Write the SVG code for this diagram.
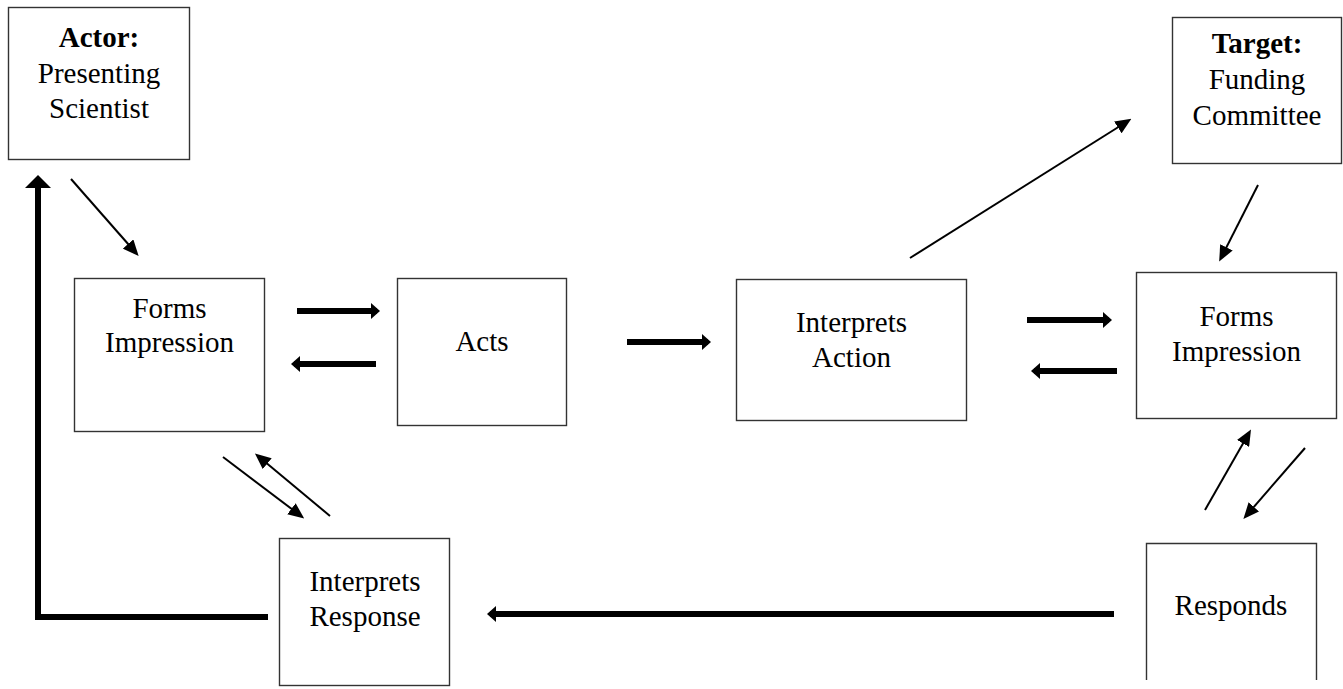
<svg xmlns="http://www.w3.org/2000/svg" width="1343" height="689" viewBox="0 0 1343 689">
<style>
.box{fill:#fff;stroke:#333;stroke-width:1.4}
.t{font-family:"Liberation Serif","Times New Roman",serif;font-size:29px;fill:#000;text-anchor:middle}
.b{font-weight:bold}
.thin{stroke:#000;stroke-width:2;fill:none}
.thick{stroke:#000;stroke-width:6;fill:none}
</style>
<defs>
<marker id="ah" markerUnits="userSpaceOnUse" markerWidth="16" markerHeight="14" refX="12" refY="7" orient="auto"><path d="M0,0 L16,7 L0,14 z" fill="#000"/></marker>
<marker id="hd" markerUnits="userSpaceOnUse" markerWidth="9" markerHeight="16" refX="6" refY="8" orient="auto"><path d="M0,0 L9,8 L0,16 z" fill="#000"/></marker>
<marker id="hv" markerUnits="userSpaceOnUse" markerWidth="13" markerHeight="26" refX="10" refY="13" orient="auto"><path d="M0,0 L13,13 L0,26 z" fill="#000"/></marker>
</defs>
<g id="connectors">
<path class="thick" d="M268,617 L38,617 L38,178" marker-end="url(#hv)"/>
<line class="thick" x1="297" y1="311" x2="377" y2="311" marker-end="url(#hd)"/>
<line class="thick" x1="376" y1="364" x2="294" y2="364" marker-end="url(#hd)"/>
<line class="thick" x1="627" y1="342" x2="708" y2="342" marker-end="url(#hd)"/>
<line class="thick" x1="1027" y1="320" x2="1109" y2="320" marker-end="url(#hd)"/>
<line class="thick" x1="1117" y1="371" x2="1034" y2="371" marker-end="url(#hd)"/>
<line class="thick" x1="1114" y1="614" x2="490" y2="614" marker-end="url(#hd)"/>
<line class="thin" x1="71" y1="179" x2="136" y2="253" marker-end="url(#ah)"/>
<line class="thin" x1="910" y1="258" x2="1128" y2="121" marker-end="url(#ah)"/>
<line class="thin" x1="1258" y1="185" x2="1221" y2="258" marker-end="url(#ah)"/>
<line class="thin" x1="223" y1="457" x2="301" y2="516" marker-end="url(#ah)"/>
<line class="thin" x1="330" y1="516" x2="258" y2="456" marker-end="url(#ah)"/>
<line class="thin" x1="1205" y1="510" x2="1249" y2="433" marker-end="url(#ah)"/>
<line class="thin" x1="1305" y1="448" x2="1246" y2="516" marker-end="url(#ah)"/>
</g>
<g id="actor">
<rect class="box" x="8.5" y="7.5" width="181" height="152"/>
<text class="t b" x="99" y="47">Actor:</text>
<text class="t" x="99" y="83">Presenting</text>
<text class="t" x="99" y="118">Scientist</text>
</g>
<g id="target">
<rect class="box" x="1172.5" y="17.5" width="169" height="146"/>
<text class="t b" x="1257" y="53">Target:</text>
<text class="t" x="1257" y="89">Funding</text>
<text class="t" x="1257" y="125">Committee</text>
</g>
<g id="forms-left">
<rect class="box" x="74.5" y="278.5" width="190" height="153"/>
<text class="t" x="169.5" y="318">Forms</text>
<text class="t" x="169.5" y="352">Impression</text>
</g>
<g id="acts">
<rect class="box" x="397.5" y="278.5" width="169" height="147"/>
<text class="t" x="482" y="351">Acts</text>
</g>
<g id="interprets-action">
<rect class="box" x="736.5" y="279.5" width="230" height="141"/>
<text class="t" x="851.5" y="332">Interprets</text>
<text class="t" x="851.5" y="367">Action</text>
</g>
<g id="forms-right">
<rect class="box" x="1136.5" y="272.5" width="200" height="146"/>
<text class="t" x="1236.5" y="326">Forms</text>
<text class="t" x="1236.5" y="361">Impression</text>
</g>
<g id="interprets-response">
<rect class="box" x="279.5" y="538.5" width="170" height="147"/>
<text class="t" x="365" y="591">Interprets</text>
<text class="t" x="365" y="626">Response</text>
</g>
<g id="responds">
<path class="box" d="M1146.5,680 L1146.5,543.5 L1316.5,543.5 L1316.5,680"/>
<text class="t" x="1231" y="615">Responds</text>
</g>
</svg>
